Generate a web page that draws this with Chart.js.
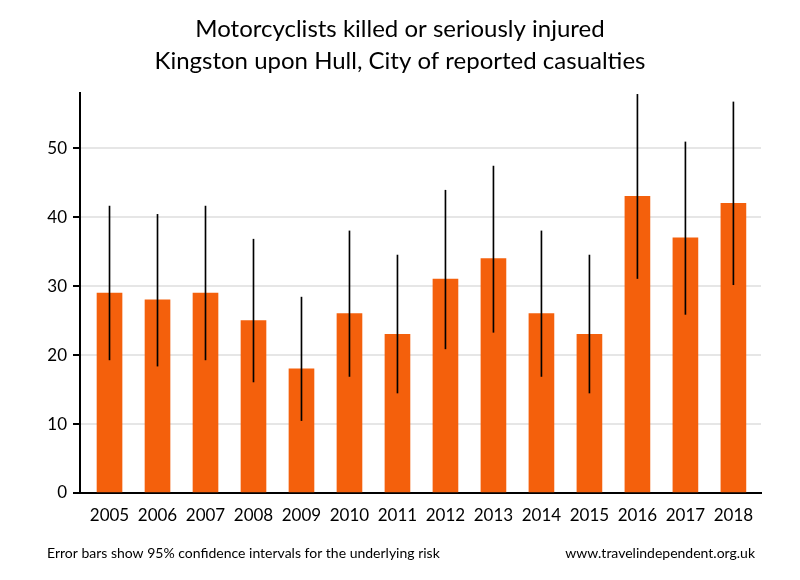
<!DOCTYPE html>
<html>
<head>
<meta charset="utf-8">
<script src="https://cdn.jsdelivr.net/npm/chart.js@4/dist/chart.umd.min.js"></script>
<style>
  html, body { margin: 0; padding: 0; background: #fff; }
  #wrap { width: 800px; height: 580px; }
</style>
</head>
<body>
<div id="wrap"><canvas id="c" width="800" height="580"></canvas></div>
<script>
const years = ['2005','2006','2007','2008','2009','2010','2011','2012','2013','2014','2015','2016','2017','2018'];
const casualties = [29, 28, 29, 25, 18, 26, 23, 31, 34, 26, 23, 43, 37, 42];
const ciLow  = [19.3, 18.4, 19.3, 16.1, 10.5, 16.9, 14.5, 20.9, 23.3, 16.9, 14.5, 31.1, 25.9, 30.2];
const ciHigh = [41.6, 40.4, 41.6, 36.8, 28.4, 38.0, 34.5, 43.9, 47.4, 38.0, 34.5, 57.8, 50.9, 56.7];
const yTicks = [0, 10, 20, 30, 40, 50];
const titleLines = ['Motorcyclists killed or seriously injured', 'Kingston upon Hull, City of reported casualties'];
const footLeft = 'Error bars show 95% confidence intervals for the underlying risk';
const footRight = 'www.travelindependent.org.uk';

const FONT = 'Lato';

const footerPlugin = {
  id: 'footer',
  afterDraw(chart) {
    const ctx = chart.ctx;
    ctx.save();
    ctx.font = '14px ' + FONT;
    ctx.fillStyle = '#000';
    ctx.textBaseline = 'middle';
    ctx.textAlign = 'left';
    ctx.fillText(footLeft, 47, 553);
    ctx.textAlign = 'right';
    ctx.fillText(footRight, 755, 553);
    ctx.restore();
  }
};

new Chart(document.getElementById('c'), {
  type: 'bar',
  data: {
    datasets: [
      {
        label: 'Error',
        data: years.map((y, i) => ({ x: i, y: [ciLow[i], ciHigh[i]] })),
        backgroundColor: '#000',
        barThickness: 1,
        grouped: false,
        order: 0
      },
      {
        label: 'Casualties',
        data: years.map((y, i) => ({ x: i, y: casualties[i] })),
        backgroundColor: '#F4600C',
        barThickness: 25,
        grouped: false,
        order: 1
      }
    ]
  },
  options: {
    responsive: false,
    animation: false,
    layout: { padding: 0 },
    plugins: {
      legend: { display: false },
      tooltip: { enabled: false },
      title: {
        display: true,
        text: titleLines,
        color: '#000',
        font: { family: FONT, size: 24, weight: 'normal', lineHeight: 1.333 },
        padding: { top: 13, bottom: 16 }
      }
    },
    scales: {
      x: {
        type: 'linear',
        min: -0.615,
        max: 13.575,
        offset: false,
        grid: { display: false, drawTicks: false, offset: false },
        border: { display: true, color: '#000', width: 2 },
        afterBuildTicks(scale) { scale.ticks = years.map((y, i) => ({ value: i })); },
        afterFit(scale) { scale.height = 87; },
        ticks: {
          color: '#000',
          padding: 12,
          maxRotation: 0,
          autoSkip: false,
          font: { family: FONT, size: 17 },
          callback: (v) => years[v]
        }
      },
      y: {
        min: 0,
        max: 58,
        afterBuildTicks(scale) { scale.ticks = yTicks.map(v => ({ value: v })); },
        afterFit(scale) { scale.width = 80; },
        grid: {
          color: (c) => (c.tick && c.tick.value === 0) ? 'rgba(0,0,0,0)' : '#e6e6e6',
          lineWidth: 2,
          tickColor: '#000',
          tickLength: 7,
          tickWidth: 2
        },
        border: { display: true, color: '#000', width: 2 },
        ticks: {
          color: '#000',
          padding: 6,
          font: { family: FONT, size: 17 }
        }
      },
      yRight: {
        type: 'linear',
        position: 'right',
        min: 0,
        max: 58,
        grid: { display: false, drawTicks: false },
        border: { display: false },
        ticks: { display: false },
        afterFit(scale) { scale.width = 39; }
      }
    }
  },
  plugins: [footerPlugin]
});
</script>
</body>
</html>
